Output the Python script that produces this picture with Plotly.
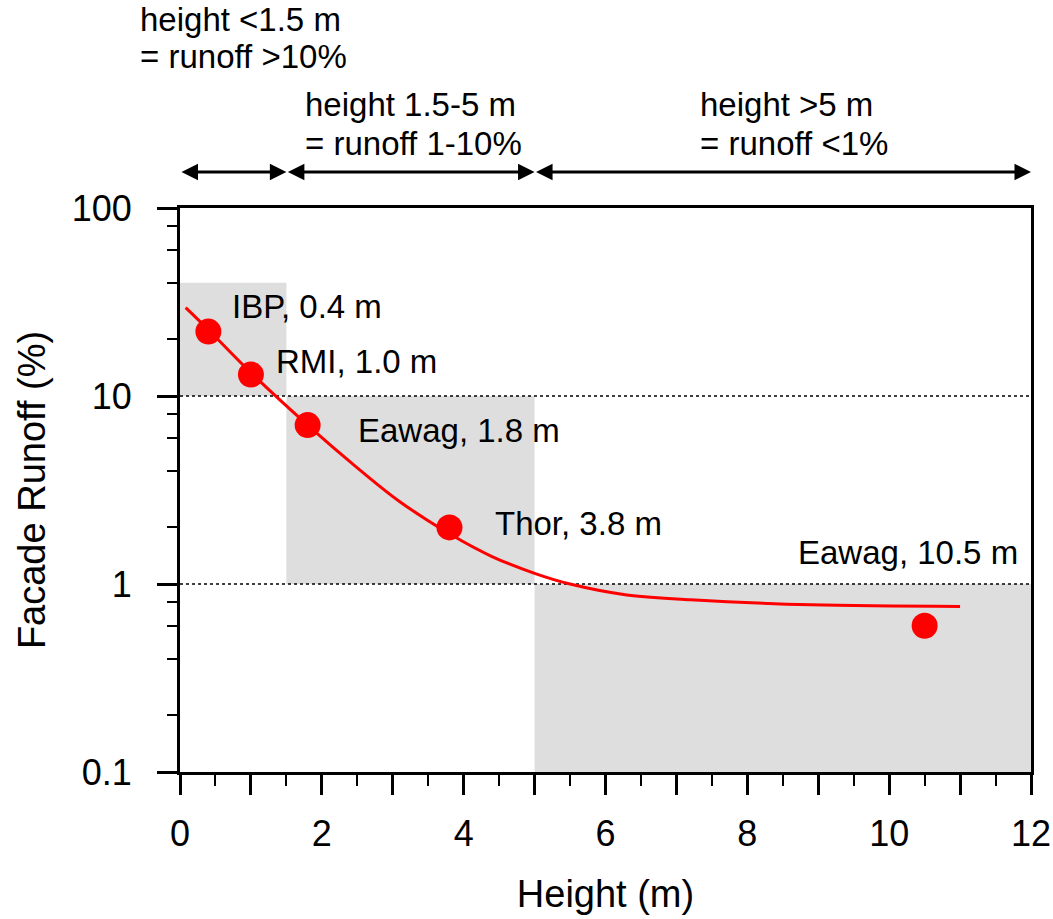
import math
import plotly.graph_objects as go

# Measured facade runoff at different building heights
SITE_NAMES = ["IBP", "RMI", "Eawag", "Thor", "Eawag"]
SITE_HEIGHT = [0.4, 1.0, 1.8, 3.8, 10.5]
SITE_RUNOFF = [22, 13, 7, 2, 0.6]

# Fitted trend curve (height in m, runoff in %)
FIT_X = [0.08, 0.4, 1.0, 1.8, 2.5, 3.1, 3.8, 4.4, 5.0, 5.5, 6.3, 7.2, 8.9, 11.0]
FIT_Y = [29.5, 22.5, 13.3, 7.0, 4.15, 2.74, 1.85, 1.40, 1.14, 1.0, 0.875, 0.825, 0.775, 0.76]

# Height classes: (height from, height to, runoff low, runoff high)
CLASS_BANDS = [
    (0.0, 1.5, 10, 40),
    (1.5, 5.0, 1, 10),
    (5.0, 12.0, 0.1, 1),
]
CLASS_TEXT = [
    ("height <1.5 m", "= runoff >10%"),
    ("height 1.5-5 m", "= runoff 1-10%"),
    ("height >5 m", "= runoff <1%"),
]
RUNOFF_THRESHOLDS = [10, 1]

X_TICKS = list(range(0, 13))
X_TICK_TEXT = [str(v) if v % 2 == 0 else "" for v in X_TICKS]
Y_TICKS = [0.1, 1, 10, 100]
Y_TICK_TEXT = ["0.1", "1", "10", "100"]
Y_MINOR = [m * 10 ** e for e in (-1, 0, 1) for m in (2, 4, 6, 8)]

FONT = "Liberation Sans, Arial, sans-serif"
RED = "#ff0000"
GREY = "#dedede"

fig = go.Figure()

fig.add_trace(go.Scatter(
    x=FIT_X, y=FIT_Y, mode="lines",
    line=dict(color=RED, width=3, shape="spline", smoothing=1.0),
    hoverinfo="skip", showlegend=False,
))
fig.add_trace(go.Scatter(
    x=SITE_HEIGHT, y=SITE_RUNOFF, mode="markers",
    marker=dict(color=RED, size=26, line=dict(width=0)),
    showlegend=False,
))

shapes = []
for x0, x1, y0, y1 in CLASS_BANDS:
    shapes.append(dict(type="rect", xref="x", yref="y", x0=x0, x1=x1, y0=y0, y1=y1,
                       fillcolor=GREY, line=dict(width=0), layer="below"))
for t in RUNOFF_THRESHOLDS:
    shapes.append(dict(type="line", xref="x", yref="y", x0=0, x1=12, y0=t, y1=t,
                       line=dict(color="black", width=1.5, dash="dot"), layer="below"))

annotations = []
# point labels, offset in pixels from each marker
label_offsets = [(22, 25), (23, 13), (48, -5), (44, 4), (-129, 73)]
for name, h, r, (dx, dy) in zip(SITE_NAMES, SITE_HEIGHT, SITE_RUNOFF, label_offsets):
    annotations.append(dict(
        x=h, y=math.log10(r), xref="x", yref="y", text=f"{name}, {h:.1f} m",
        showarrow=False, xanchor="left", yanchor="middle", xshift=dx, yshift=dy,
        font=dict(family=FONT, size=33, color="black"),
    ))

# double-headed arrows spanning each height class
for x0, x1, _, _ in CLASS_BANDS:
    annotations.append(dict(
        x=x1, y=1.0638, xref="x", yref="paper", ax=x0, ay=0, axref="x", ayref="pixel",
        text="", showarrow=True, arrowhead=2, arrowside="end+start",
        arrowsize=1.1, arrowwidth=3, arrowcolor="black", standoff=0, startstandoff=0,
    ))

# class descriptions above the arrows
text_pos = [(-0.0494, 1.334, 1.268), (0.1445, 1.184, 1.115), (0.6087, 1.184, 1.115)]
for (line1, line2), (px, py1, py2) in zip(CLASS_TEXT, text_pos):
    for txt, py in ((line1, py1), (line2, py2)):
        annotations.append(dict(
            x=px, y=py, xref="paper", yref="paper", text=txt, showarrow=False,
            xanchor="left", yanchor="middle",
            font=dict(family=FONT, size=33, color="black"),
        ))

fig.update_layout(
    width=1053, height=919,
    margin=dict(l=180, r=22, t=208, b=147),
    paper_bgcolor="white", plot_bgcolor="white",
    font=dict(family=FONT, color="black"),
    shapes=shapes, annotations=annotations,
    showlegend=False,
)

fig.update_xaxes(
    range=[0, 12], tickmode="array", tickvals=X_TICKS, ticktext=X_TICK_TEXT,
    ticks="outside", ticklen=20, tickwidth=2.5, tickcolor="black",
    minor=dict(dtick=0.5, ticks="outside", ticklen=11, tickwidth=2, tickcolor="black"),
    showline=True, linewidth=3, linecolor="black", mirror=True,
    showgrid=False, zeroline=False, automargin=False,
    tickfont=dict(family=FONT, size=36, color="black"), ticklabelstandoff=8,
    title=dict(text="Height (m)", font=dict(family=FONT, size=38, color="black"), standoff=28),
)
fig.update_yaxes(
    type="log", range=[-1, 2], tickmode="array", tickvals=Y_TICKS, ticktext=Y_TICK_TEXT,
    ticks="outside", ticklen=20, tickwidth=2.5, tickcolor="black",
    minor=dict(tickmode="array", tickvals=Y_MINOR, ticks="outside", ticklen=10,
               tickwidth=2, tickcolor="black", showgrid=False),
    showline=True, linewidth=3, linecolor="black", mirror=True,
    showgrid=False, zeroline=False, automargin=False,
    tickfont=dict(family=FONT, size=36, color="black"), ticklabelstandoff=18,
    title=dict(text="Facade Runoff (%)", font=dict(family=FONT, size=38, color="black"), standoff=15),
)

fig.write_html("out.html")
